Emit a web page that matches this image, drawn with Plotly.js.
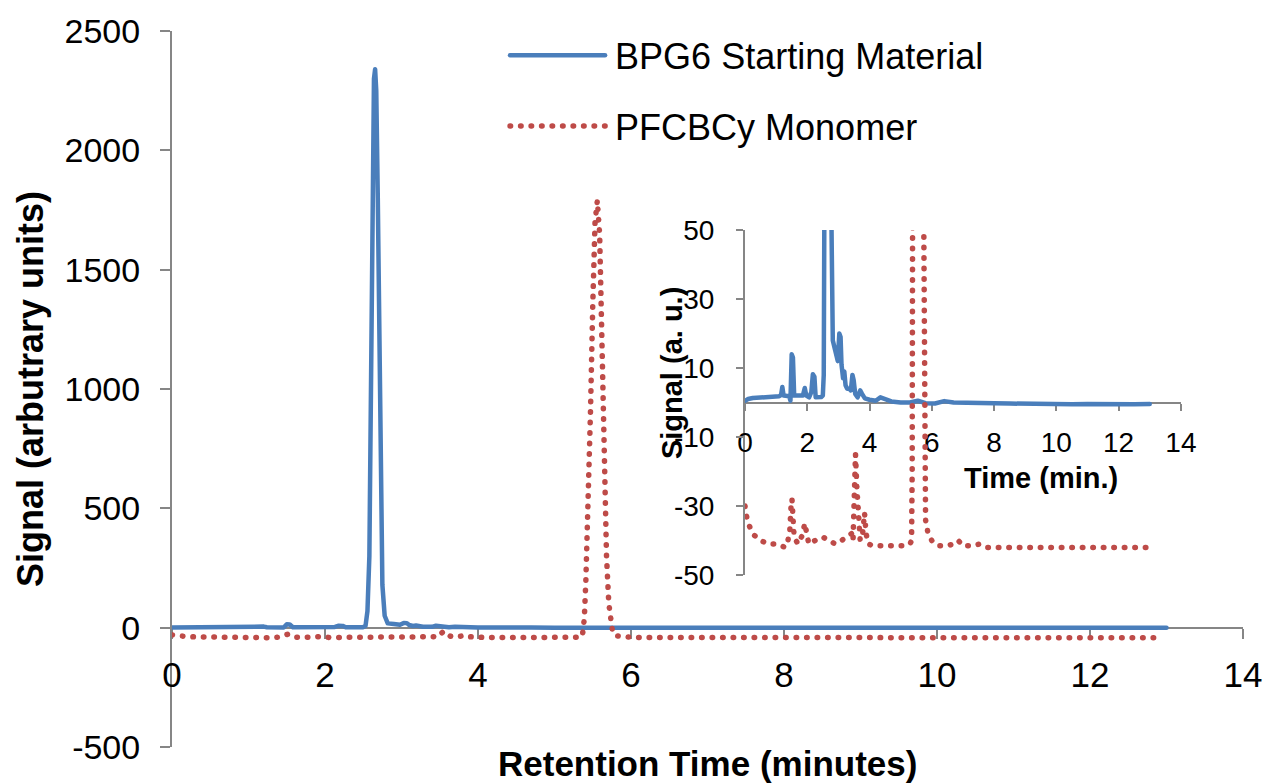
<!DOCTYPE html>
<html>
<head>
<meta charset="utf-8">
<script src="https://cdn.plot.ly/plotly-3.0.1.min.js"></script>
<style>
html,body{margin:0;padding:0;background:#ffffff;}
#chart{width:1266px;height:783px;}
.js-line{stroke-linecap:round;stroke-linejoin:round;}
</style>
</head>
<body>
<div id="chart"></div>
<script>
// ---- Data ----
const seriesNames = ['BPG6 Starting Material', 'PFCBCy Monomer'];

const bpgTime = [0.00,0.10,0.25,0.50,0.80,1.10,1.16,1.20,1.24,1.32,1.42,1.46,1.50,1.54,1.58,1.70,1.86,1.92,1.97,2.06,2.13,2.18,2.23,2.27,2.35,2.45,2.50,2.53,2.555,2.58,2.60,2.62,2.64,2.655,2.67,2.69,2.71,2.73,2.75,2.78,2.82,2.90,2.98,3.03,3.07,3.10,3.15,3.19,3.23,3.28,3.35,3.40,3.45,3.49,3.54,3.62,3.70,3.76,3.85,4.00,4.20,4.35,4.50,4.70,5.00,5.30,5.55,5.80,6.10,6.40,6.70,7.00,7.50,8.00,8.50,9.00,9.50,10.0,10.5,11.0,11.5,12.0,12.5,13.0];
const bpgSignal = [0.5,1.0,1.3,1.5,1.7,1.8,2.2,4.5,2.0,1.8,1.8,0.5,14,13,2.0,2.0,2.0,4.2,2.0,1.5,3.0,8.2,7.5,1.5,1.5,1.6,2,8,70,300,1000,1800,2300,2340,2250,1800,1100,500,180,50,18,15,12,20,19,11,7,9,5,4,4,3.5,8,6.5,2.5,1.5,3.5,2.5,1.2,0.8,0.5,1.5,1.0,0.3,0,0,0.5,-0.2,-0.3,0.4,0,-0.1,-0.3,-0.2,-0.3,-0.4,-0.3,-0.4,-0.5,-0.4,-0.5,-0.4,-0.5,-0.4];

const pfcTime = [0.00,0.05,0.15,0.30,0.50,0.75,1.00,1.20,1.30,1.38,1.44,1.48,1.51,1.54,1.58,1.70,1.84,1.92,1.97,2.05,2.25,2.50,2.70,2.90,3.10,3.30,3.42,3.47,3.51,3.55,3.59,3.64,3.70,3.78,3.84,3.89,3.96,4.10,4.40,4.80,5.10,5.30,5.35,5.37,5.39,5.41,5.44,5.47,5.50,5.53,5.56,5.59,5.62,5.65,5.68,5.71,5.74,5.76,5.80,5.88,6.00,6.20,6.50,6.70,6.85,7.00,7.30,7.55,7.80,8.20,8.80,9.50,10.2,11.0,11.8,12.5,12.9];
const pfcSignal = [-30,-33,-36,-38.5,-40,-41,-41,-41.5,-42,-40,-37,-30,-28,-33,-39,-41,-38.5,-35,-37,-41,-40,-39,-40,-41,-40,-39,-38,-40,-30,-15,-24,-36,-40,-38,-32,-38,-41,-41.5,-41.5,-41.5,-41.5,-41,-40,-20,40,200,500,900,1350,1700,1790,1650,1200,700,300,100,30,-20,-34,-38,-40,-41.5,-41.5,-41,-40,-41.5,-41.5,-41,-42,-42,-42,-42,-42,-42,-42,-42,-42];

const mainXTicks = [0,2,4,6,8,10,12,14];
const mainYTicks = [-500,0,500,1000,1500,2000,2500];
const mainYTickLabels = ['-500','0','500','1000','1500','2000','2500'];
const insetXTicks = [0,2,4,6,8,10,12,14];
const insetYTicks = [-50,-30,-10,10,30,50];
const insetYTickLabels = ['-50','-30','-10','10','30','50'];

// ---- Styles ----
const blue = '#4a7ebb';
const red = '#be4b48';
const axisGray = '#868686';
const FONT = '"Liberation Sans", Arial, sans-serif';

const blueLine = {color: blue, width: 4.5};
const redLine = {color: red, width: 5.5, dash: '0.5px,10px'};

const traces = [
  {x: bpgTime, y: bpgSignal, type: 'scatter', mode: 'lines', name: seriesNames[0],
   line: blueLine, xaxis: 'x', yaxis: 'y', legendgroup: 'a'},
  {x: pfcTime, y: pfcSignal, type: 'scatter', mode: 'lines', name: seriesNames[1],
   line: redLine, xaxis: 'x', yaxis: 'y', legendgroup: 'b'},
  {x: bpgTime, y: bpgSignal, type: 'scatter', mode: 'lines', name: seriesNames[0],
   line: blueLine, xaxis: 'x2', yaxis: 'y2', showlegend: false},
  {x: pfcTime, y: pfcSignal, type: 'scatter', mode: 'lines', name: seriesNames[1],
   line: redLine, xaxis: 'x2', yaxis: 'y2', showlegend: false}
];

const axCommon = {
  showgrid: false, zeroline: false, showline: true,
  linecolor: axisGray, linewidth: 2,
  ticks: 'outside', tickcolor: axisGray, tickwidth: 2,
  fixedrange: true, layer: 'below traces'
};

const layout = {
  width: 1266, height: 783,
  paper_bgcolor: '#ffffff', plot_bgcolor: 'rgba(0,0,0,0)',
  margin: {l: 172, r: 23, t: 31, b: 36},
  font: {family: FONT, color: '#000000'},
  showlegend: true,
  legend: {
    x: 0.311, xanchor: 'left', y: 1.008, yanchor: 'top',
    bgcolor: 'rgba(0,0,0,0)', borderwidth: 0,
    font: {family: FONT, size: 36, color: '#000000'},
    itemwidth: 100, tracegroupgap: 21
  },
  xaxis: Object.assign({}, axCommon, {
    domain: [0, 1], range: [0, 14], autorange: false,
    tickvals: mainXTicks, ticklen: 10,
    anchor: 'free', position: 1/6,
    tickfont: {family: FONT, size: 35, color: '#000000'},
    ticklabelstandoff: 6
  }),
  yaxis: Object.assign({}, axCommon, {
    domain: [0, 1], range: [-500, 2500], autorange: false,
    tickvals: mainYTicks, ticktext: mainYTickLabels, ticklen: 10,
    anchor: 'x',
    tickfont: {family: FONT, size: 34, color: '#000000'},
    ticklabelstandoff: 13,
    title: {text: '<b>Signal (arbutrary units)</b>', standoff: 10,
            font: {family: FONT, size: 36, color: '#000000'}}
  }),
  xaxis2: Object.assign({}, axCommon, {
    domain: [0.535, 0.942], range: [0, 14], autorange: false,
    tickvals: insetXTicks, ticklen: 7,
    anchor: 'free', position: 0.481,
    tickfont: {family: FONT, size: 28, color: '#000000'},
    ticklabelstandoff: 8
  }),
  yaxis2: Object.assign({}, axCommon, {
    domain: [0.2402, 0.7221], range: [-50, 50], autorange: false,
    tickvals: insetYTicks, ticktext: insetYTickLabels, ticklen: 7,
    anchor: 'x2',
    tickfont: {family: FONT, size: 28, color: '#000000'},
    ticklabelstandoff: 16
  }),
  annotations: [
    {text: '<b>Retention Time (minutes)</b>', xref: 'paper', yref: 'paper',
     x: 0.5, y: -0.0225, xanchor: 'center', yanchor: 'middle', showarrow: false,
     borderpad: 0, font: {family: FONT, size: 35, color: '#000000'}},
    {text: '<b>Time (min.)</b>', xref: 'paper', yref: 'paper',
     x: 0.8114, y: 0.3757, xanchor: 'center', yanchor: 'middle', showarrow: false,
     font: {family: FONT, size: 29, color: '#000000'}},
    {text: '<b>Signal (a. u.)</b>', xref: 'paper', yref: 'paper', textangle: -90,
     x: 0.4669, y: 0.5223, xanchor: 'center', yanchor: 'middle', showarrow: false,
     font: {family: FONT, size: 29, color: '#000000'}}
  ]
};

Plotly.newPlot('chart', traces, layout, {displayModeBar: false, staticPlot: true}).then(function () {
  document.querySelectorAll('.legend .legendlines path.js-line').forEach(function (p) {
    p.setAttribute('d', 'M5,0h95');
  });
});
</script>
</body>
</html>
